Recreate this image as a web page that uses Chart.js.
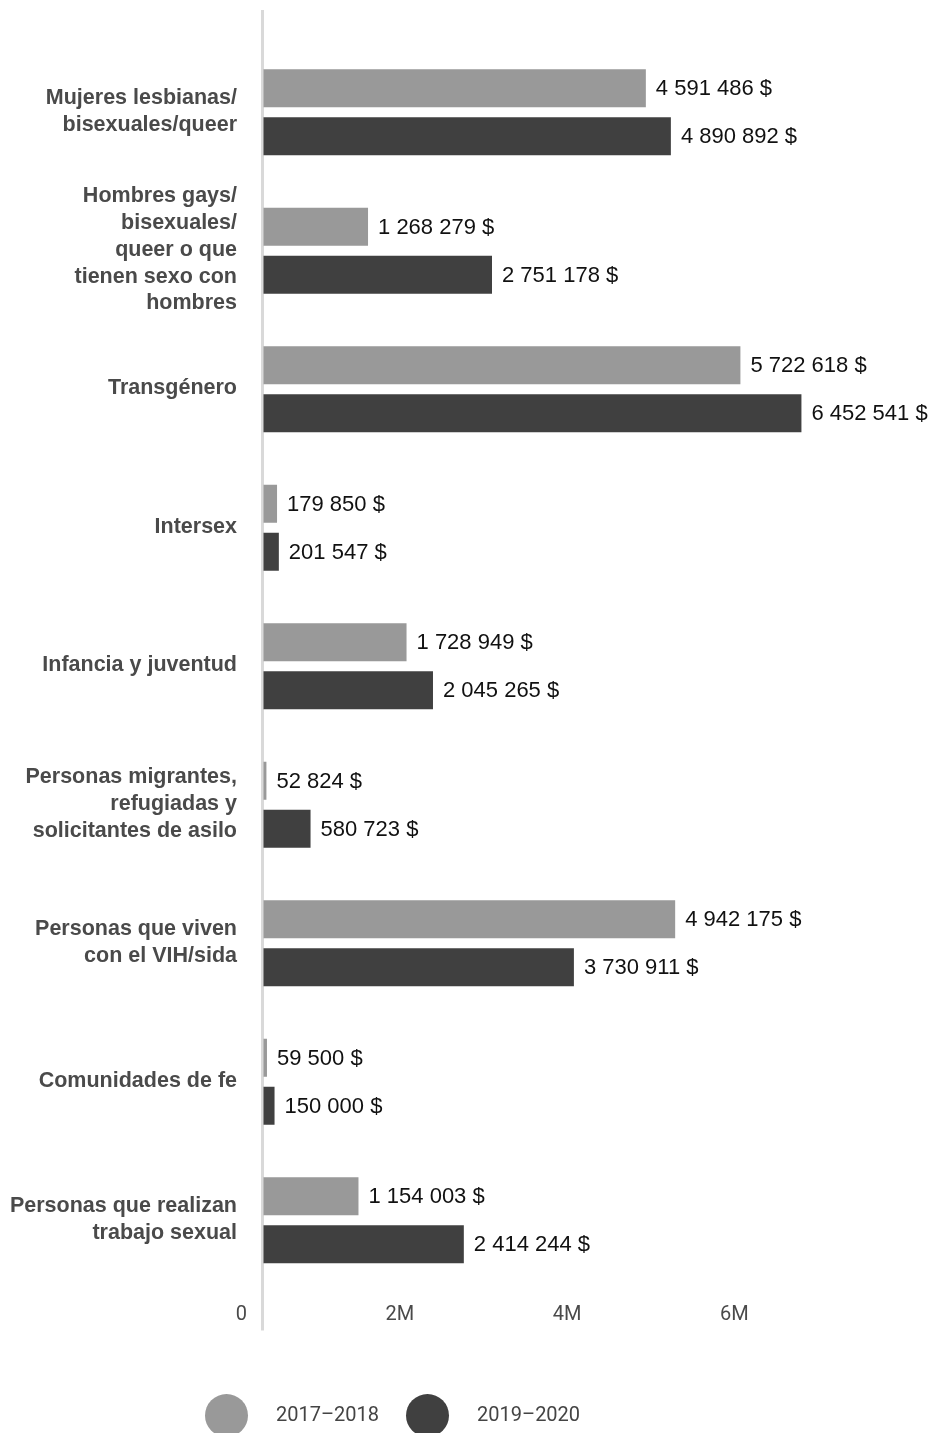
<!DOCTYPE html>
<html>
<head>
<meta charset="utf-8">
<title>Financiamiento por población</title>
<script src="https://cdn.jsdelivr.net/npm/chart.js@4.4.1/dist/chart.umd.min.js"></script>
<style>
  html, body { margin: 0; padding: 0; background: #fff; }
  .wrap { width: 930px; height: 1433px; position: relative; overflow: hidden; }
  #legend { position: absolute; left: 205px; top: 1394px; display: flex; align-items: center;
    font: 20px Roboto, sans-serif; color: #444; }
  #legend .dot { width: 43px; height: 43px; border-radius: 50%; margin-right: 28px; }
  #legend .txt { margin-right: 27px; position: relative; top: -2px; }
</style>
</head>
<body>
<div class="wrap">
  <canvas id="fundingChart"></canvas>
  <div id="legend"></div>
</div>
<script>
var categories = [
  ['Mujeres lesbianas/', 'bisexuales/queer'],
  ['Hombres gays/', 'bisexuales/', 'queer o que', 'tienen sexo con', 'hombres'],
  'Transgénero',
  'Intersex',
  'Infancia y juventud',
  ['Personas migrantes,', 'refugiadas y', 'solicitantes de asilo'],
  ['Personas que viven', 'con el VIH/sida'],
  'Comunidades de fe',
  ['Personas que realizan', 'trabajo sexual']
]
var seriesNames = ['2017–2018', '2019–2020']
var values1718 = [4591486, 1268279, 5722618, 179850, 1728949, 52824, 4942175, 59500, 1154003]
var values1920 = [4890892, 2751178, 6452541, 201547, 2045265, 580723, 3730911, 150000, 2414244]
var xTicks = [0, 2000000, 4000000, 6000000]
var tickNames = ['0', '2M', '4M', '6M']
var barColors = ['#999999', '#404040']

Chart.defaults.font.family = 'Roboto, "Liberation Sans", sans-serif'

function money(v) {
  return String(v).replace(/\B(?=(\d{3})+(?!\d))/g, ' ') + ' $'
}

// only the zero line of the value axis is shown
function zeroLine(ctx) {
  return ctx.tick && ctx.tick.value === 0 ? '#d9d9d9' : 'rgba(0,0,0,0)'
}
function setTicks(axis) {
  axis.ticks = xTicks.map(function (v) { return { value: v } })
}

var valueLabels = {
  id: 'valueLabels',
  afterDatasetsDraw: function (chart) {
    var ctx = chart.ctx
    ctx.save()
    ctx.font = '22px "Liberation Sans", Arial, sans-serif'
    ctx.fillStyle = '#111'
    ctx.textAlign = 'left'
    ctx.textBaseline = 'middle'
    chart.data.datasets.forEach(function (ds, i) {
      chart.getDatasetMeta(i).data.forEach(function (bar, j) {
        ctx.fillText(money(ds.data[j]), bar.x + 10, bar.y + 1)
      })
    })
    ctx.restore()
  }
}

// legend as html under the plot
var htmlLegend = {
  id: 'htmlLegend',
  afterUpdate: function (chart) {
    var box = document.getElementById('legend')
    box.innerHTML = ''
    chart.data.datasets.forEach(function (ds) {
      var dot = document.createElement('span')
      dot.className = 'dot'
      dot.style.background = ds.backgroundColor
      var txt = document.createElement('span')
      txt.className = 'txt'
      txt.textContent = ds.label
      box.appendChild(dot)
      box.appendChild(txt)
    })
  }
}

new Chart('fundingChart', {
  type: 'bar',
  data: {
    labels: categories,
    datasets: [
      { label: seriesNames[0], data: values1718, backgroundColor: barColors[0] },
      { label: seriesNames[1], data: values1920, backgroundColor: barColors[1] }
    ]
  },
  options: {
    indexAxis: 'y',
    responsive: true,
    maintainAspectRatio: false,
    animation: false,
    barPercentage: 0.79,
    categoryPercentage: 0.693,
    layout: { padding: { top: 10, left: 0, right: 41, bottom: 38 } },
    scales: {
      y: {
        type: 'category',
        grid: { display: false, drawTicks: false },
        border: { display: false },
        afterFit: function (s) {
          s.width = 262
          s.paddingTop = 0
          s.paddingBottom = 0
        },
        ticks: {
          padding: 25,
          labelOffset: -1,
          color: '#4a4a4a',
          font: { family: '"Liberation Sans", Arial, sans-serif', size: 21.5, weight: 'bold', lineHeight: 1.25 }
        }
      },
      x: {
        type: 'linear',
        position: 'bottom',
        min: 0,
        max: 7500000,
        afterBuildTicks: setTicks,
        afterFit: function (s) { s.height = 105.5 },
        border: { display: false },
        grid: { color: zeroLine, lineWidth: 3, tickLength: 41 },
        ticks: {
          align: 'end',
          labelOffset: -15,
          padding: -28,
          color: '#4a4a4a',
          font: { size: 20 },
          callback: function (v) { return tickNames[xTicks.indexOf(v)] }
        }
      },
      x2: {
        type: 'linear',
        position: 'top',
        min: 0,
        max: 7500000,
        afterBuildTicks: setTicks,
        afterFit: function (s) { s.height = 33 },
        border: { display: false },
        grid: { color: zeroLine, lineWidth: 3, tickLength: 33, drawOnChartArea: false },
        ticks: { display: false }
      }
    },
    plugins: {
      tooltip: { enabled: false },
      legend: { display: false }
    }
  },
  plugins: [valueLabels, htmlLegend]
})
</script>
</body>
</html>
